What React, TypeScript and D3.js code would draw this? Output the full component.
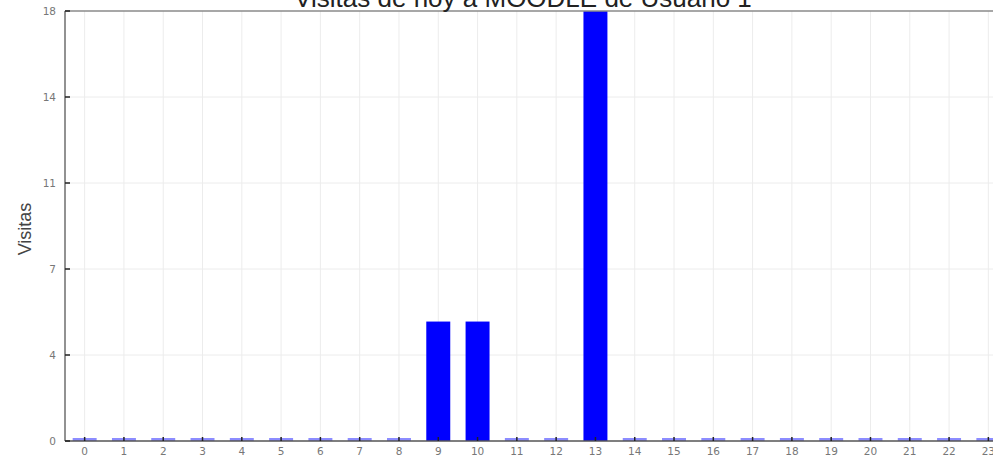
import React, { useEffect, useRef } from 'react';
import * as d3 from 'd3';

const hours = d3.range(0, 24).map(String);
const visits = [0, 0, 0, 0, 0, 0, 0, 0, 0, 5, 5, 0, 0, 18, 0, 0, 0, 0, 0, 0, 0, 0, 0, 0];
const yTicks = [0, 3.6, 7.2, 10.8, 14.4, 18];
const title = 'Visitas de hoy a MOODLE de Usuario 1';
const yLabel = 'Visitas';

const W = 993;
const H = 459;

const App: React.FC = () => {
  const svgRef = useRef<SVGSVGElement>(null);

  useEffect(() => {
    document.body.style.margin = '0';
    document.body.style.overflow = 'hidden';
    if (!svgRef.current) return;
    const svg = d3.select(svgRef.current);
    svg.selectAll('*').remove();

    const left = 65, right = 1008, top = 11, bottom = 441;
    const x = d3.scaleBand().domain(hours).range([left, right]).paddingInner(0.39).paddingOuter(0.195);
    const y = d3.scaleLinear().domain([0, 18]).range([bottom, top]);
    const cx = (d: string) => x(d)! + x.bandwidth() / 2;

    // grid
    svg.append('g').selectAll('line').data(hours).join('line')
      .attr('x1', cx).attr('x2', cx)
      .attr('y1', top).attr('y2', bottom)
      .attr('stroke', '#ececec').attr('stroke-width', 1);
    svg.append('g').selectAll('line').data(yTicks.slice(1, -1)).join('line')
      .attr('x1', left).attr('x2', W).attr('y1', d => y(d)).attr('y2', d => y(d))
      .attr('stroke', '#ececec').attr('stroke-width', 1);

    // bars (zero hours keep a thin light strip)
    svg.append('g').selectAll('rect').data(visits).join('rect')
      .attr('x', (d, i) => x(hours[i])!)
      .attr('width', x.bandwidth())
      .attr('y', d => d > 0 ? y(d) : bottom - 3)
      .attr('height', d => d > 0 ? bottom - y(d) : 3)
      .attr('fill', d => d > 0 ? '#0000ff' : '#8c8cff');

    // frame
    svg.append('line').attr('x1', left).attr('x2', W).attr('y1', top).attr('y2', top)
      .attr('stroke', '#8a8a8a').attr('stroke-width', 1.5);
    svg.append('line').attr('x1', left).attr('x2', left).attr('y1', top).attr('y2', bottom)
      .attr('stroke', '#6e6e6e').attr('stroke-width', 1.5);
    svg.append('line').attr('x1', left).attr('x2', W).attr('y1', bottom).attr('y2', bottom)
      .attr('stroke', '#555').attr('stroke-width', 1.5);

    // y ticks
    const yg = svg.append('g');
    yg.selectAll('line').data(yTicks).join('line')
      .attr('x1', left).attr('x2', left + 5).attr('y1', d => y(d)).attr('y2', d => y(d))
      .attr('stroke', '#222').attr('stroke-width', 1.5);
    yg.selectAll('text').data(yTicks).join('text')
      .attr('x', 56).attr('y', d => y(d) + 4)
      .attr('text-anchor', 'end')
      .attr('font-family', 'DejaVu Sans, sans-serif').attr('font-size', 10.5)
      .attr('fill', '#777')
      .text(d => d3.format('.0f')(d));

    // x ticks
    const xg = svg.append('g');
    xg.selectAll('line').data(hours).join('line')
      .attr('x1', cx).attr('x2', cx)
      .attr('y1', bottom).attr('y2', bottom - 4)
      .attr('stroke', '#222').attr('stroke-width', 1.5);
    xg.selectAll('text').data(hours).join('text')
      .attr('x', cx).attr('y', 455)
      .attr('text-anchor', 'middle')
      .attr('font-family', 'DejaVu Sans, sans-serif').attr('font-size', 10.5)
      .attr('fill', '#777')
      .text(d => d);

    // title
    svg.append('text')
      .attr('x', 523).attr('y', 7)
      .attr('text-anchor', 'middle')
      .attr('font-family', 'Liberation Sans, Arial, sans-serif').attr('font-size', 26)
      .attr('fill', '#222')
      .text(title);

    // y label
    svg.append('text')
      .attr('transform', `translate(31,229) rotate(-90)`)
      .attr('text-anchor', 'middle')
      .attr('font-family', 'Liberation Sans, Arial, sans-serif').attr('font-size', 18)
      .attr('fill', '#444')
      .text(yLabel);
  }, []);

  return <svg ref={svgRef} width={W} height={H} style={{ display: 'block', background: '#fff' }} />;
};

export default App;
